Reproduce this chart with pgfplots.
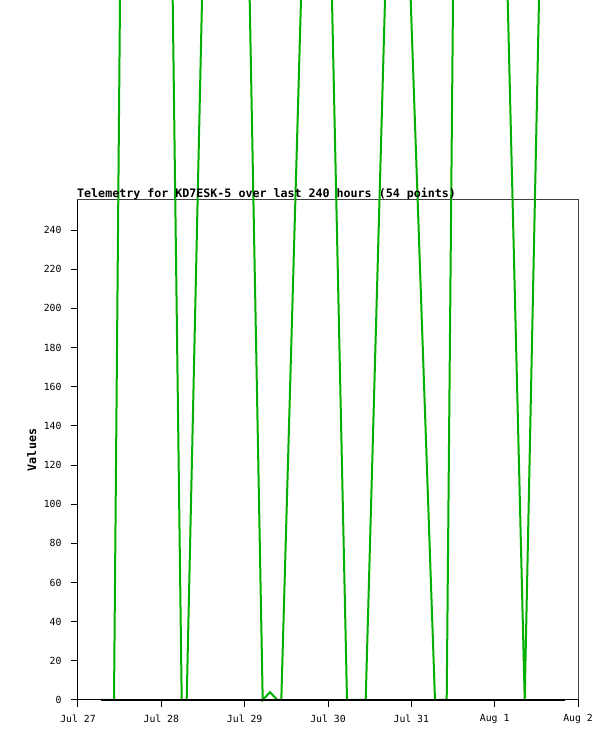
\documentclass[border=0pt]{standalone}
\usepackage{fontspec}
\usepackage{pgfplots}
\pgfplotsset{compat=1.18}
\setmainfont{DejaVu Sans Mono}
\newfontfamily\monofont{DejaVu Sans Mono}
\newcommand{\tickfont}{\monofont\fontsize{9.8}{10}\selectfont}
\newcommand{\titlefont}{\monofont\bfseries\fontsize{11.65}{12}\selectfont}
\definecolor{tgreen}{RGB}{0,175,0}
\definecolor{frame}{RGB}{64,64,64}
\begin{document}
\begin{tikzpicture}[x=1pt,y=1pt]
\useasboundingbox (-78pt,-41pt) rectangle (537pt,700pt);
\clip (-78pt,-41pt) rectangle (537pt,700pt);
\begin{axis}[
  scale only axis,
  width=500pt, height=500pt,
  at={(0pt,0pt)}, anchor=south west,
  xmin=0, xmax=6,
  ymin=0, ymax=255.36,
  clip=false,
  axis line style={frame, line width=1pt},
  xtick={0,1,2,3,4,5,6},
  xticklabels={Jul 27,Jul 28,Jul 29,Jul 30,Jul 31,Aug 1,Aug 2},
  ytick={0,20,...,240},
  tick align=outside,
  xtick pos=bottom, ytick pos=left,
  major tick length=7pt,
  tick style={black, line width=1pt},
  /pgf/number format/assume math mode=true,
  ticklabel style={font=\tickfont},
  yticklabel style={anchor=east, xshift=-6pt},
  xticklabel style={anchor=center, yshift=-12pt},
  title={Telemetry for KD7ESK-5 over last 240 hours (54 points)},
  title style={font=\titlefont, at={(rel axis cs:0,1)}, anchor=base west, yshift=-3.2pt, xshift=-1pt, inner sep=0pt},
  ylabel={Values},
  every axis y label/.style={at={(rel axis cs:0,0.5)}, xshift=-46.3pt, rotate=90, anchor=center, font=\titlefont},
]
\addplot[tgreen, line width=2pt, line join=miter] coordinates {
 (0.276,0) (0.432,0) (0.5125,400) (1.1236,400) (1.2444,0) (1.3044,0)
 (1.5098,400) (2.0418,400) (2.2164,0) (2.304,4) (2.3916,0) (2.4396,0)
 (2.7041,400) (3.0266,400) (3.228,0) (3.4524,0) (3.7115,400) (3.9577,400)
 (4.284,0) (4.4244,0) (4.509,400) (5.1322,400) (5.3604,0) (5.5524,400)
 (5.844,400)
};
\addplot[black, line width=2pt] coordinates {
 (0.276,0) (1.0,0) (2.0,0) (3.0,0) (4.0,0) (5.0,0) (5.844,0)
};
\draw[black, line width=1pt] (rel axis cs:0,1) -- (rel axis cs:0,0) -- (rel axis cs:1,0);
\end{axis}
\end{tikzpicture}
\end{document}
